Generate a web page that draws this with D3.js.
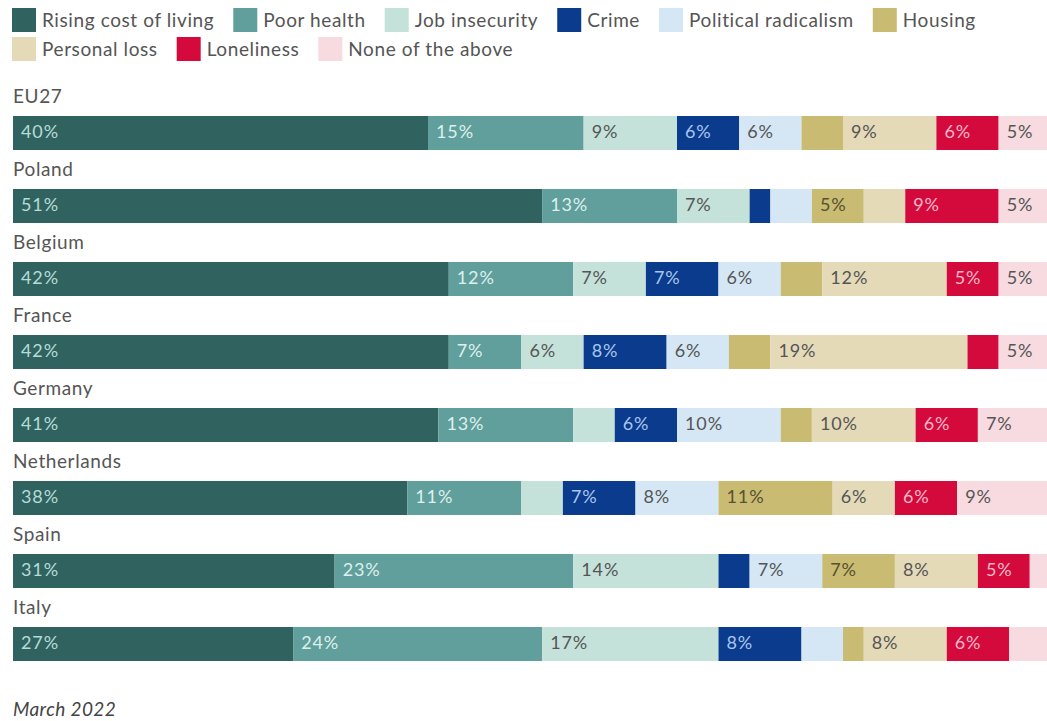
<!DOCTYPE html>
<html>
<head>
<meta charset="utf-8">
<script src="https://cdn.jsdelivr.net/npm/d3@7"></script>
<style>
  body { margin: 0; background: #fff; }
  text { font-family: Lato, "Open Sans", sans-serif; }
</style>
</head>
<body>
<div id="chart"></div>
<script>
// Categories (legend order = stack order)
var categories = ["Rising cost of living", "Poor health", "Job insecurity", "Crime",
    "Political radicalism", "Housing", "Personal loss", "Loneliness", "None of the above"];
var countries = ["EU27", "Poland", "Belgium", "France", "Germany", "Netherlands", "Spain", "Italy"];

// Series values (%), one per country
var risingCost    = [40, 51, 42, 42, 41, 38, 31, 27];
var poorHealth    = [15, 13, 12,  7, 13, 11, 23, 24];
var jobInsecurity = [ 9,  7,  7,  6,  4,  4, 14, 17];
var crime         = [ 6,  2,  7,  8,  6,  7,  3,  8];
var political     = [ 6,  4,  6,  6, 10,  8,  7,  4];
var housing       = [ 4,  5,  4,  4,  3, 11,  7,  2];
var personalLoss  = [ 9,  4, 12, 19, 10,  6,  8,  8];
var loneliness    = [ 6,  9,  5,  3,  6,  6,  5,  6];
var noneAbove     = [ 5,  5,  5,  5,  7,  9,  2,  4];

var footnote = "March 2022";

var colors = ["#30635f", "#609f9b", "#c5e2da", "#0b3b8c", "#d5e7f4", "#c9bb72", "#e4dab8", "#d50a3c", "#f7dbe0"];
var labelColors = ["#b5dcd8", "#def0ee", "#555", "#a9c6ef", "#555", "#57512f", "#555", "#f5b8c8", "#555"];

function initializeChart() {
    d3.select("#chart").select("svg").remove();

    var width = 1047, height = 721;

    var svg = d3.select("#chart").append("svg")
        .attr("width", width)
        .attr("height", height);

    // build table for stack
    var series = [risingCost, poorHealth, jobInsecurity, crime, political, housing, personalLoss, loneliness, noneAbove];
    var table = countries.map(function (c, i) {
        var row = { country: c };
        categories.forEach(function (k, j) { row[k] = series[j][i]; });
        return row;
    });
    var stacked = d3.stack().keys(categories)(table);

    var color = d3.scaleOrdinal().domain(categories).range(colors);
    var labelColor = d3.scaleOrdinal().domain(categories).range(labelColors);

    // X scale (100% spans slightly past the viewport, like the original crop)
    var x = d3.scaleLinear().domain([0, 100]).range([13, 1050.5]);

    // Y scale for bars
    var y = d3.scaleBand()
        .domain(countries)
        .range([116, 661])
        .paddingInner(39 / 73)
        .paddingOuter(0);

    // Legend (flow layout)
    var legend = svg.append("g");
    var lx = 12, ly = 8, rowH = 29, maxW = 1040;
    categories.forEach(function (k) {
        var g = legend.append("g");
        g.append("rect")
            .attr("width", 24).attr("height", 24)
            .attr("fill", color(k));
        var t = g.append("text")
            .attr("x", 30).attr("y", 19)
            .attr("font-size", 19)
            .attr("letter-spacing", 0.6)
            .attr("fill", "#555")
            .text(k);
        var w = 30 + t.node().getComputedTextLength();
        if (lx + w > maxW) { lx = 12; ly += rowH; }
        g.attr("transform", `translate(${lx},${ly})`);
        lx += w + 19;
    });

    // Country labels
    svg.selectAll(".country")
        .data(countries)
        .enter().append("text")
        .attr("class", "country")
        .attr("x", 13)
        .attr("y", d => y(d) - 13)
        .attr("font-size", 19)
        .attr("letter-spacing", 0.6)
        .attr("fill", "#555")
        .text(d => d);

    // Bars
    var layers = svg.selectAll(".layer")
        .data(stacked)
        .enter().append("g")
        .attr("class", "layer");

    layers.selectAll("rect")
        .data(d => d.map(p => ({ key: d.key, p: p })))
        .enter().append("rect")
        .attr("x", d => x(d.p[0]))
        .attr("y", d => y(d.p.data.country))
        .attr("width", d => x(d.p[1]) - x(d.p[0]))
        .attr("height", y.bandwidth())
        .attr("fill", d => color(d.key));

    // Value labels (only segments of 5% or more)
    layers.selectAll("text")
        .data(d => d.map(p => ({ key: d.key, p: p })).filter(d => d.p[1] - d.p[0] >= 5))
        .enter().append("text")
        .attr("x", d => x(d.p[0]) + 8)
        .attr("y", d => y(d.p.data.country) + y.bandwidth() / 2)
        .attr("dy", "0.27em")
        .attr("font-size", 18)
        .attr("letter-spacing", 0.9)
        .attr("fill", d => labelColor(d.key))
        .text(d => (d.p[1] - d.p[0]) + "%");

    // Footnote
    svg.append("text")
        .attr("x", 13)
        .attr("y", 716)
        .attr("font-size", 19)
        .attr("letter-spacing", 0.4)
        .attr("font-style", "italic")
        .attr("fill", "#444")
        .text(footnote);
}

document.addEventListener('DOMContentLoaded', initializeChart);
</script>
</body>
</html>
